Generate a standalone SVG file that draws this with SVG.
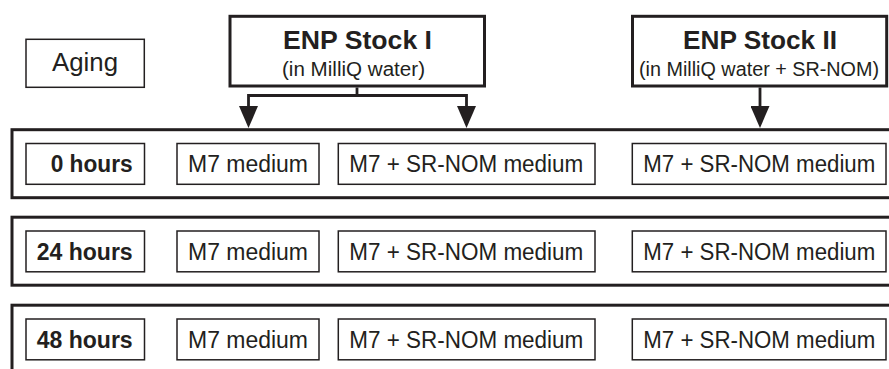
<svg xmlns="http://www.w3.org/2000/svg" width="889" height="369" viewBox="0 0 889 369">
  <style>
    .thin { fill: #ffffff; stroke: #231f20; stroke-width: 1.5; }
    .thick { fill: #ffffff; stroke: #231f20; stroke-width: 3; }
    .row { fill: none; stroke: #231f20; stroke-width: 3; }
    .conn { fill: none; stroke: #231f20; stroke-width: 2.8; }
    text { font-family: "Liberation Sans", Arial, Helvetica, sans-serif; fill: #231f20; }
    .lbl { font-size: 23.5px; }
    .hrs { font-size: 23.5px; font-weight: bold; text-anchor: end; }
    .title { font-size: 25.5px; font-weight: bold; text-anchor: middle; }
    .sub { font-size: 19.5px; text-anchor: middle; }
  </style>
  <defs>
    <marker id="arrow" viewBox="0 0 22 19" refX="0" refY="9.5" markerWidth="22" markerHeight="19" markerUnits="userSpaceOnUse" orient="auto">
      <path d="M0,0 L22,9.5 L0,19 Z" fill="#231f20"/>
    </marker>
  </defs>

  <rect width="889" height="369" fill="#ffffff"/>

  <!-- header -->
  <g id="aging">
    <rect class="thin" x="26" y="39.3" width="118.3" height="48"/>
    <text x="85" y="71" text-anchor="middle" font-size="25" textLength="66" lengthAdjust="spacingAndGlyphs">Aging</text>
  </g>
  <g id="stock1">
    <rect class="thick" x="230" y="16.3" width="254.5" height="69.7"/>
    <text class="title" x="357.5" y="49" textLength="149" lengthAdjust="spacingAndGlyphs">ENP Stock I</text>
    <text class="sub" x="353.5" y="76" textLength="143" lengthAdjust="spacingAndGlyphs">(in MilliQ water)</text>
  </g>
  <g id="stock2">
    <rect class="thick" x="632.5" y="16.3" width="254.2" height="69.7"/>
    <text class="title" x="760" y="49" textLength="154" lengthAdjust="spacingAndGlyphs">ENP Stock II</text>
    <text class="sub" x="759" y="76" textLength="240" lengthAdjust="spacingAndGlyphs">(in MilliQ water + SR-NOM)</text>
  </g>

  <!-- connectors from the stocks down to the 0-hour row -->
  <g id="connectors">
    <path class="conn" d="M357,87.5 V95.5"/>
    <path class="conn" d="M357,95.5 H248.5 V106" marker-end="url(#arrow)"/>
    <path class="conn" d="M357,95.5 H466.5 V106" marker-end="url(#arrow)"/>
    <path class="conn" d="M760,87.5 V106" marker-end="url(#arrow)"/>
  </g>

  <!-- row: 0 hours -->
  <g id="row0">
    <rect class="row" x="12" y="129.7" width="890" height="68"/>
    <g id="row0-time">
      <rect class="thin" x="26" y="143.5" width="118.5" height="40.8"/>
      <text class="hrs" x="132.7" y="172" textLength="82" lengthAdjust="spacingAndGlyphs">0 hours</text>
    </g>
    <g id="row0-m7">
      <rect class="thin" x="177" y="143.5" width="142" height="40.8"/>
      <text class="lbl" x="188" y="172" textLength="120" lengthAdjust="spacingAndGlyphs">M7 medium</text>
    </g>
    <g id="row0-m7nom-a">
      <rect class="thin" x="338.3" y="143.5" width="256.7" height="40.8"/>
      <text class="lbl" x="349.3" y="172" textLength="234" lengthAdjust="spacingAndGlyphs">M7 + SR-NOM medium</text>
    </g>
    <g id="row0-m7nom-b">
      <rect class="thin" x="632.3" y="143.5" width="253.7" height="40.8"/>
      <text class="lbl" x="643.3" y="172" textLength="232" lengthAdjust="spacingAndGlyphs">M7 + SR-NOM medium</text>
    </g>
  </g>

  <!-- row: 24 hours -->
  <g id="row24" transform="translate(0,87.5)">
    <rect class="row" x="12" y="129.7" width="890" height="68"/>
    <g id="row24-time">
      <rect class="thin" x="26" y="143.5" width="118.5" height="40.8"/>
      <text class="hrs" x="132.7" y="172" textLength="96" lengthAdjust="spacingAndGlyphs">24 hours</text>
    </g>
    <g id="row24-m7">
      <rect class="thin" x="177" y="143.5" width="142" height="40.8"/>
      <text class="lbl" x="188" y="172" textLength="120" lengthAdjust="spacingAndGlyphs">M7 medium</text>
    </g>
    <g id="row24-m7nom-a">
      <rect class="thin" x="338.3" y="143.5" width="256.7" height="40.8"/>
      <text class="lbl" x="349.3" y="172" textLength="234" lengthAdjust="spacingAndGlyphs">M7 + SR-NOM medium</text>
    </g>
    <g id="row24-m7nom-b">
      <rect class="thin" x="632.3" y="143.5" width="253.7" height="40.8"/>
      <text class="lbl" x="643.3" y="172" textLength="232" lengthAdjust="spacingAndGlyphs">M7 + SR-NOM medium</text>
    </g>
  </g>

  <!-- row: 48 hours (continues below the frame) -->
  <g id="row48" transform="translate(0,175.5)">
    <rect class="row" x="12" y="129.7" width="890" height="90"/>
    <g id="row48-time">
      <rect class="thin" x="26" y="143.5" width="118.5" height="40.8"/>
      <text class="hrs" x="132.7" y="172" textLength="96" lengthAdjust="spacingAndGlyphs">48 hours</text>
    </g>
    <g id="row48-m7">
      <rect class="thin" x="177" y="143.5" width="142" height="40.8"/>
      <text class="lbl" x="188" y="172" textLength="120" lengthAdjust="spacingAndGlyphs">M7 medium</text>
    </g>
    <g id="row48-m7nom-a">
      <rect class="thin" x="338.3" y="143.5" width="256.7" height="40.8"/>
      <text class="lbl" x="349.3" y="172" textLength="234" lengthAdjust="spacingAndGlyphs">M7 + SR-NOM medium</text>
    </g>
    <g id="row48-m7nom-b">
      <rect class="thin" x="632.3" y="143.5" width="253.7" height="40.8"/>
      <text class="lbl" x="643.3" y="172" textLength="232" lengthAdjust="spacingAndGlyphs">M7 + SR-NOM medium</text>
    </g>
  </g>
</svg>
